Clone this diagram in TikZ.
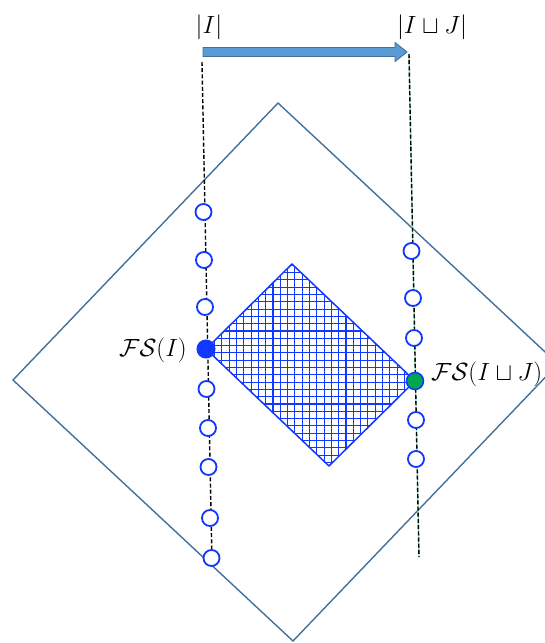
\documentclass[tikz,border=0pt]{standalone}
\usepackage{amssymb}
\definecolor{frameblue}{RGB}{65,113,156}
\definecolor{arrowfill}{RGB}{91,155,213}
\definecolor{ptblue}{RGB}{16,56,255}
\definecolor{ptgreen}{RGB}{0,166,81}
\definecolor{mint}{RGB}{150,230,185}
\tikzset{
  hollow/.style={circle, draw=ptblue, line width=1.8pt, fill=white, minimum size=16pt, inner sep=0pt},
  bluedot/.style={circle, fill=ptblue, draw=ptblue, line width=1pt, minimum size=18pt, inner sep=0pt},
  greendot/.style={circle, fill=ptgreen, draw=ptblue, line width=1.5pt, minimum size=17pt, inner sep=0pt},
  vline/.style={black, line width=1.4pt, dash pattern=on 4pt off 2.2pt},
  frame/.style={draw=frameblue, line width=1.4pt},
  toplabel/.style={inner sep=0pt, font=\fontsize{33}{35}\selectfont},
  fslabel/.style={inner sep=0pt, font=\fontsize{23}{25}\selectfont},
  hatch/.style={ptblue, line width=1.1pt},
}
\begin{document}
\begin{tikzpicture}[x=1pt, y=-1pt]
\useasboundingbox (0,0) rectangle (545,643);
\clip (0,0) rectangle (545,643);
% big diamond
\coordinate (dT) at (278,103);
\coordinate (dL) at (13,380);
\coordinate (dB) at (293,641);
\coordinate (dR) at (558,364);
\draw[frame] (dT) -- (dL) -- (dB) -- (dR) -- cycle;
% dashed lines
\coordinate (ltop) at (202,62);
\coordinate (lbot) at (212,562);
\coordinate (rtop) at (409,54);
\coordinate (rbot) at (419,557);
\draw[vline] (ltop) -- (lbot);
\draw[mint, line width=1.4pt] (rtop) -- (rbot);
\draw[vline] (rtop) -- (rbot);
% hatched rectangle
\coordinate (hL) at (206,349);
\coordinate (hT) at (292,264);
\coordinate (hR) at (415,381);
\coordinate (hB) at (329,466);
\begin{scope}
  \clip (hL) -- (hT) -- (hR) -- (hB) -- cycle;
  \foreach \k in {0,...,34} {
    \draw[hatch] (200+7.3*\k,255) -- (200+7.3*\k,475);
    \draw[hatch] (200,258+7.3*\k) -- (425,258+7.3*\k);
  }
\end{scope}
\draw[ptblue, line width=1.5pt, line join=round] (hL) -- (hT) -- (hR) -- (hB) -- cycle;
% left points
\node[hollow] (l1) at (203.5,212) {};
\node[hollow] (l2) at (204,260) {};
\node[hollow] (l3) at (205,307) {};
\node[bluedot] (fsI) at (206,349) {};
\node[hollow] (l5) at (206.5,389) {};
\node[hollow] (l6) at (208,428) {};
\node[hollow] (l7) at (208.5,467) {};
\node[hollow] (l8) at (210,518) {};
\node[hollow] (l9) at (211.5,558) {};
% right points
\node[hollow] (r1) at (411.5,251) {};
\node[hollow] (r2) at (413,298) {};
\node[hollow] (r3) at (414,338) {};
\node[greendot] (fsIJ) at (415,381) {};
\node[hollow] (r5) at (416,420) {};
\node[hollow] (r6) at (416,459) {};
% labels
\node[fslabel, anchor=east] (labI) at (187,350) {$\mathcal{F}\mathcal{S}(I)$};
\node[fslabel, anchor=west] (labIJ) at (431,374) {$\mathcal{F}\mathcal{S}(I\sqcup J)$};
\node[toplabel] (topI) at (209,27) {$|I|$};
\node[toplabel] (topIJ) at (432,27) {$|I\sqcup J|$};
% arrow
\coordinate (aS) at (203,52);
\coordinate (aE) at (407,52);
\filldraw[fill=arrowfill, draw=frameblue, line width=0.9pt, line join=miter]
  (203,47.5) -- (395,47.5) -- (395,42.5) -- (aE) -- (395,61.5) -- (395,56.5) -- (203,56.5) -- cycle;
\end{tikzpicture}
\end{document}
